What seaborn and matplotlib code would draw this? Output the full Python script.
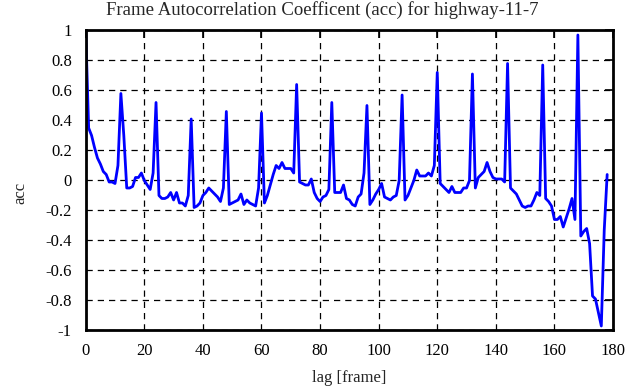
import numpy as np
import pandas as pd
import matplotlib
matplotlib.use("Agg")
import matplotlib.pyplot as plt
import seaborn as sns

# ---- data ----
acc = [
    1.00, 0.35, 0.30, 0.22, 0.15, 0.11, 0.06, 0.04, -0.01, -0.01,   # 0-9
    -0.02, 0.10, 0.58, 0.30, -0.05, -0.05, -0.04, 0.02, 0.02, 0.05,  # 10-19
    0.00, -0.03, -0.06, 0.05, 0.52, -0.10, -0.12, -0.12, -0.11, -0.08,  # 20-29
    -0.13, -0.08, -0.15, -0.15, -0.17, -0.10, 0.41, -0.18, -0.17, -0.15,  # 30-39
    -0.10, -0.08, -0.05, -0.07, -0.09, -0.11, -0.14, -0.05, 0.46, -0.16,  # 40-49
    -0.15, -0.14, -0.13, -0.09, -0.16, -0.13, -0.15, -0.16, -0.17, -0.05,  # 50-59
    0.45, -0.15, -0.10, -0.03, 0.04, 0.10, 0.08, 0.12, 0.08, 0.08,  # 60-69
    0.08, 0.05, 0.64, -0.01, -0.02, -0.03, -0.03, 0.01, -0.08, -0.12,  # 70-79
    -0.14, -0.11, -0.10, -0.06, 0.52, -0.08, -0.08, -0.08, -0.03, -0.12,  # 80-89
    -0.13, -0.16, -0.17, -0.11, -0.09, 0.05, 0.50, -0.16, -0.13, -0.09,  # 90-99
    -0.06, -0.02, -0.11, -0.12, -0.13, -0.11, -0.10, 0.00, 0.57, -0.13,  # 100-109
    -0.10, -0.05, 0.00, 0.07, 0.03, 0.03, 0.03, 0.05, 0.03, 0.10,  # 110-119
    0.72, -0.02, -0.04, -0.06, -0.08, -0.04, -0.08, -0.08, -0.08, -0.05,  # 120-129
    -0.05, 0.00, 0.71, -0.05, 0.02, 0.04, 0.06, 0.12, 0.06, 0.02,  # 130-139
    0.01, 0.01, 0.01, -0.01, 0.78, -0.05, -0.07, -0.09, -0.13, -0.17,  # 140-149
    -0.18, -0.17, -0.17, -0.13, -0.08, -0.10, 0.77, -0.12, -0.14, -0.17,  # 150-159
    -0.26, -0.26, -0.24, -0.31, -0.25, -0.19, -0.12, -0.26, 0.97, -0.37,  # 160-169
    -0.34, -0.32, -0.42, -0.77, -0.79, -0.88, -0.97, -0.33, 0.04,  # 170-178
]
lag = list(range(len(acc)))

x_ticks = [0, 20, 40, 60, 80, 100, 120, 140, 160, 180]
y_ticks = [-1, -0.8, -0.6, -0.4, -0.2, 0, 0.2, 0.4, 0.6, 0.8, 1]
y_tick_labels = ["-1", "-0.8", "-0.6", "-0.4", "-0.2", "0", "0.2", "0.4", "0.6", "0.8", "1"]

title = "Frame Autocorrelation Coefficent (acc) for highway-11-7"
xlabel = "lag [frame]"
ylabel = "acc"

df = pd.DataFrame({"lag": lag, "acc": acc})

sns.set_style("white")
plt.rcParams["font.family"] = ["Liberation Serif", "DejaVu Serif"]
plt.rcParams["axes.unicode_minus"] = False

fig = plt.figure(figsize=(6.35, 3.87), dpi=100)
ax = fig.add_axes([0.135, 0.146, 0.8304, 0.7752])

sns.lineplot(data=df, x="lag", y="acc", ax=ax, color="#0000ff", linewidth=2.0, zorder=3)

ax.set_xlim(0, 180)
ax.set_ylim(-1, 1)
ax.set_xticks(x_ticks)
ax.set_xticklabels([str(t) for t in x_ticks])
ax.set_yticks(y_ticks)
ax.set_yticklabels(y_tick_labels)

ax.grid(True, color="black", linestyle=(0, (5, 4)), linewidth=0.9)
ax.tick_params(direction="in", length=6, width=1.2, top=True, right=True,
               labelsize=12, colors="black")
ax.tick_params(axis="x", pad=9)
ax.tick_params(axis="y", pad=10)
for s in ax.spines.values():
    s.set_linewidth(2.0)
    s.set_color("black")
    s.set_zorder(5)

fig.text(322 / 635, 1 - 10 / 387, title, fontsize=13.5, ha="center", va="center")
ax.set_xlabel(xlabel, fontsize=12, labelpad=8)
ax.set_ylabel(ylabel, fontsize=12, rotation=90)
ax.yaxis.set_label_coords(-0.135 + 14 / 527.3, (330.5 - 193) / 300)

fig.savefig("out.png", dpi=100, facecolor="white")
